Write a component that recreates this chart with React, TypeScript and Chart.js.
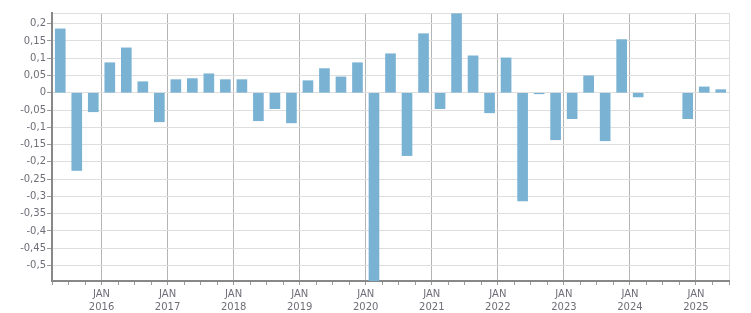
import React, { useEffect, useRef } from "react";
import { Chart, registerables } from "chart.js";

Chart.register(...registerables);

// Quarterly categories (Q2 2015 .. Q2 2025)
const quarters: string[] = [
  "2015 Q2", "2015 Q3", "2015 Q4",
  "2016 Q1", "2016 Q2", "2016 Q3", "2016 Q4",
  "2017 Q1", "2017 Q2", "2017 Q3", "2017 Q4",
  "2018 Q1", "2018 Q2", "2018 Q3", "2018 Q4",
  "2019 Q1", "2019 Q2", "2019 Q3", "2019 Q4",
  "2020 Q1", "2020 Q2", "2020 Q3", "2020 Q4",
  "2021 Q1", "2021 Q2", "2021 Q3", "2021 Q4",
  "2022 Q1", "2022 Q2", "2022 Q3", "2022 Q4",
  "2023 Q1", "2023 Q2", "2023 Q3", "2023 Q4",
  "2024 Q1", "2024 Q2", "2024 Q3", "2024 Q4",
  "2025 Q1", "2025 Q2",
];

const values: (number | null)[] = [
  0.185, -0.225, -0.055,
  0.087, 0.13, 0.032, -0.084,
  0.038, 0.041, 0.055, 0.038,
  0.038, -0.081, -0.046, -0.087,
  0.035, 0.07, 0.046, 0.087,
  -0.62, 0.113, -0.182, 0.171,
  -0.046, 0.229, 0.107, -0.058,
  0.101, -0.313, -0.003, -0.136,
  -0.075, 0.049, -0.139, 0.154,
  -0.012, null, null, -0.075,
  0.017, 0.009,
];

const yTicks: number[] = [
  -0.5, -0.45, -0.4, -0.35, -0.3, -0.25, -0.2, -0.15, -0.1, -0.05,
  0, 0.05, 0.1, 0.15, 0.2,
];
const yMin = -0.545;
const yMax = 0.231;

const yearLabels: number[] = [2016, 2017, 2018, 2019, 2020, 2021, 2022, 2023, 2024, 2025];
const monthLabel = "JAN";

// x range in fractional years
const xMin = 2015.25;
const xMax = 2025.5;

function quarterCenter(q: string): number {
  const [y, qq] = q.split(" ");
  const n = parseInt(qq.slice(1), 10);
  return parseInt(y, 10) + (n - 1) * 0.25 + 0.125;
}

const TEXT = "#6e6e78";
const FONT = { family: "'DejaVu Sans', sans-serif", size: 10, lineHeight: 1.27 };

export default function App() {
  const ref = useRef<HTMLCanvasElement | null>(null);

  useEffect(() => {
    if (!ref.current) return;
    const xTickValues: number[] = [];
    for (let v = xMin; v <= xMax + 1e-9; v += 0.25) xTickValues.push(Math.round(v * 100) / 100);

    const isYear = (v: number) => yearLabels.includes(Math.round(v * 100) / 100);

    const chart = new Chart(ref.current, {
      type: "bar",
      data: {
        datasets: [
          {
            data: quarters.map((q, i) => ({ x: quarterCenter(q), y: values[i] })) as any,
            backgroundColor: "#7ab2d4",
            barThickness: 10,
          },
        ],
      },
      options: {
        animation: false,
        responsive: false,
        layout: { padding: { top: 13, right: 22, left: 0, bottom: 0 } },
        plugins: { legend: { display: false }, tooltip: { enabled: false } },
        scales: {
          x: {
            type: "linear",
            min: xMin,
            max: xMax,
            offset: false,
            afterBuildTicks: (scale: any) => {
              scale.ticks = xTickValues.map((v) => ({ value: v }));
            },
            afterFit: (scale: any) => {
              scale.height = 32;
            },
            ticks: {
              autoSkip: false,
              maxRotation: 0,
              minRotation: 0,
              padding: 3,
              color: TEXT,
              font: FONT,
              callback: (v: any) => {
                const n = Number(v);
                return isYear(n) ? [monthLabel, String(Math.round(n))] : "";
              },
            },
            grid: {
              offset: false,
              drawOnChartArea: true,
              tickLength: 4,
              color: (ctx: any) => {
                const v = ctx.tick ? ctx.tick.value : 0;
                if (isYear(v)) return "#b4b4b4";
                if (Math.abs(v - xMax) < 1e-6) return "#dedede";
                return "rgba(0,0,0,0)";
              },
              tickColor: "#9a9a9a",
              lineWidth: 1,
            },
            border: { display: true, color: "#888888", width: 2 },
          },
          y: {
            type: "linear",
            min: yMin,
            max: yMax,
            afterBuildTicks: (scale: any) => {
              scale.ticks = [yMin, ...yTicks, yMax].map((v) => ({ value: v }));
            },
            afterFit: (scale: any) => {
              scale.width = 52;
            },
            ticks: {
              autoSkip: false,
              padding: 1,
              color: TEXT,
              font: FONT,
              callback: (v: any) => {
                const n = Number(v);
                if (!yTicks.some((t) => Math.abs(t - n) < 1e-9)) return "";
                const r = Math.round(n * 100) / 100;
                return String(r).replace(".", ",");
              },
            },
            grid: {
              color: "#dedede",
              lineWidth: 1,
              tickLength: 5,
              tickColor: (ctx: any) => {
                const v = ctx.tick ? ctx.tick.value : 0;
                return yTicks.some((t) => Math.abs(t - v) < 1e-9) ? "#9a9a9a" : "rgba(0,0,0,0)";
              },
            },
            border: { display: true, color: "#888888", width: 2 },
          },
        },
      },
    });
    return () => chart.destroy();
  }, []);

  return (
    <div style={{ position: "fixed", left: 0, top: 0, width: 751, height: 313, background: "#fff" }}>
      <canvas ref={ref} width={751} height={313} style={{ display: "block" }} />
    </div>
  );
}
